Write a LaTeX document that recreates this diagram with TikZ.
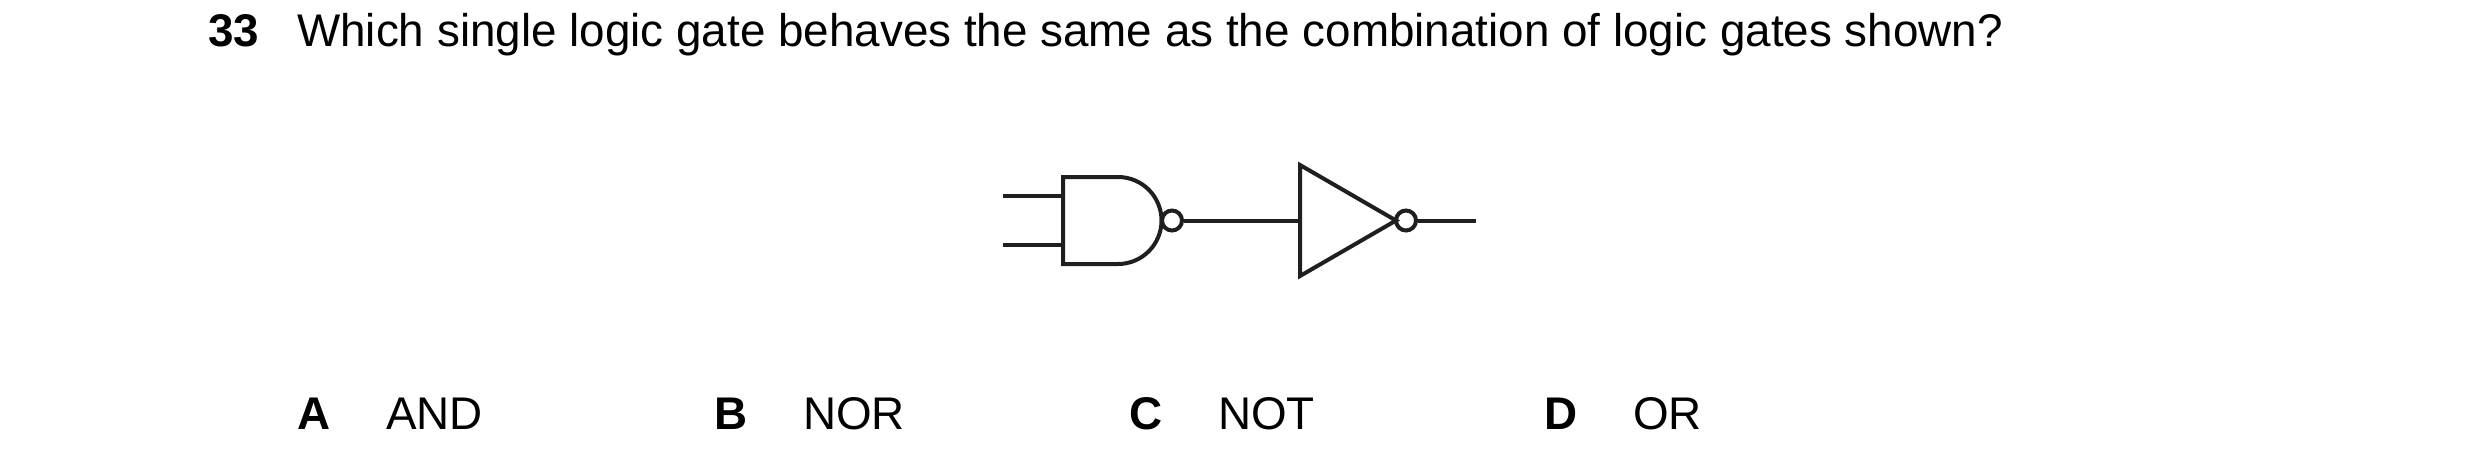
\documentclass[tikz,border=0pt]{standalone}
\usepackage{fontspec}
\setmainfont{Liberation Sans}
\begin{document}
\begin{tikzpicture}[x=1pt,y=-1pt,
  txt/.style={anchor=base west,inner sep=0pt,font=\fontsize{45.8}{50}\selectfont},
  lab/.style={txt,font=\fontsize{45.8}{50}\selectfont\bfseries},
  wire/.style={line width=4pt,draw=black!88},
  bub/.style={circle,draw=black!88,line width=4pt,minimum size=20pt,inner sep=0pt}]
\useasboundingbox (0,0) rectangle (2480,467);
\node[lab] (q) at (208,46) {33};
\node[txt] (qt) at (297,46) {Which single logic gate behaves the same as the combination of logic gates shown?};
% NAND gate
\draw[wire] (1118,177) -- (1063,177) -- (1063,264) -- (1118,264) arc[start angle=90,end angle=-90,radius=43.5] -- cycle;
\coordinate (i1) at (1003,196); \coordinate (i1e) at (1063,196);
\coordinate (i2) at (1003,245); \coordinate (i2e) at (1063,245);
\draw[wire] (i1) -- (i1e);
\draw[wire] (i2) -- (i2e);
\node[bub] (b1) at (1172,220.5) {};
% NOT gate
\draw[wire] (1300,165) -- (1300,276) -- (1396,220.5) -- cycle;
\coordinate (nin) at (1300,220.5);
\node[bub] (b2) at (1406,220.5) {};
\coordinate (out) at (1476,220.5);
\draw[wire] (b1) -- (nin);
\draw[wire] (b2) -- (out);
% answers
\node[lab] (la) at (297,429) {A}; \node[txt] (ta) at (386,429) {AND};
\node[lab] (lb) at (714,429) {B}; \node[txt] (tb) at (803,429) {NOR};
\node[lab] (lc) at (1129,429) {C}; \node[txt] (tc) at (1218,429) {NOT};
\node[lab] (ld) at (1544,429) {D}; \node[txt] (td) at (1633,429) {OR};
\end{tikzpicture}
\end{document}
